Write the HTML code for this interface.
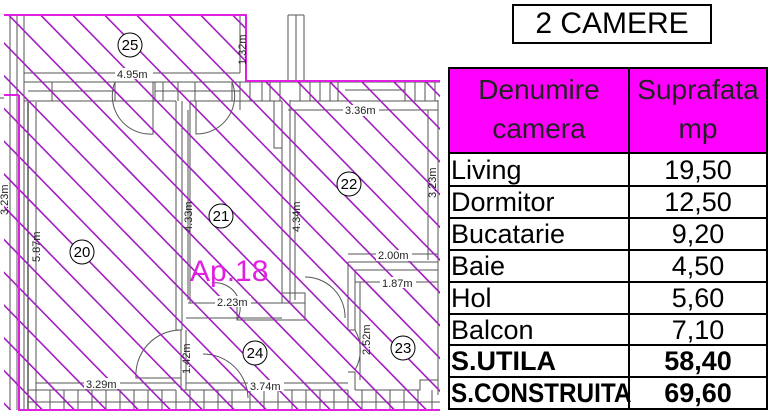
<!DOCTYPE html>
<html><head><meta charset="utf-8"><style>
html,body{margin:0;padding:0;background:#fff;}
body{width:772px;height:419px;position:relative;overflow:hidden;font-family:"Liberation Sans",sans-serif;}
.title{position:absolute;left:512px;top:4px;width:196px;height:36px;border:2px solid #000;font-size:30px;line-height:36px;text-align:center;}
.c{position:absolute;box-sizing:border-box;font-size:27px;line-height:30px;white-space:nowrap;}
</style></head><body>
<svg width="445" height="419" style="position:absolute;left:0;top:0" xmlns="http://www.w3.org/2000/svg">
<defs><clipPath id="c"><path d="M4 15 H246 V81 H440 V410 H4 Z"/></clipPath></defs>
<g stroke="#555" stroke-width="1" fill="none">
<path d="M10 15 V410 M17 15 V410 M24 15 V410 M4 98 H0"/>
<path d="M24 82 H440 M24 101 H176 M190 101 H282 M290 101 H438 M28 91 H115 M155 91 H240 M345 90 H405"/>
<path d="M52 82V101 M115 82V101 M155 82V101 M163 82V101 M178 82V101 M195 82V101 M232 82V101 M240 82V101 M250 82V101 M262 82V101 M270 82V101 M280 82V101 M300 82V101 M310 82V101 M320 82V101 M330 82V101 M338 82V101 M405 82V101 M415 82V101 M425 82V101 M435 82V101"/>
<path d="M288 15 H304 M288 15 V82 M296 15 V82 M304 15 V82"/>
<path d="M36 102 V390 M28 102 V410" stroke="#000"/>
<path d="M176 101 V330 M182 101 V330 M190 101 V303 M176 330 H182 M181 330 V390"/>
<path d="M240 101 V110 M274 101 V148 H282 V303 M282 101 V148 M290 100 V303 M300 303 H290 M188 303 H305 M237 303 V320 H305 V293 H282"/>
<path d="M438 100 V395"/>
<path d="M348 262 H438 M348 262 V330 M355 270 V330 M355 270 H438 M355 330 H348 M355 372 V390 M348 372 H355 M355 390 H420 V380 H438"/>
<path d="M28 390 H176 M181 390 H348 M28 402 H440 M19 410 H440"/>
<path d="M36 390V410 M50 390V410 M64 390V410 M78 390V410 M92 390V410 M106 390V410 M120 390V410 M134 390V410 M148 390V410 M162 390V410 M176 390V410 M190 390V410 M204 390V410 M218 390V410 M232 390V410 M250 390V410 M264 390V410 M278 390V410 M292 390V410 M306 390V410 M320 390V410 M334 390V410 M348 390V410 M362 390V410 M376 390V410 M390 390V410 M404 390V410 M418 390V410 M432 390V410"/>
<path d="M115 82 A38 38 0 0 0 153 134 V82 M232 82 A38 38 0 0 1 196 134 V101 M181 330 A45 45 0 0 0 136 378 H181 M203 354 A45 45 0 0 1 248 398 M305 277 A40 40 0 0 1 345 318 M355 330 A40 40 0 0 1 355 370 M212 283 A25 25 0 0 1 237 320"/>
<path d="M24 73 H240 M240 15 V73 M288 110 H438 M36 102 V390 M188 110 V300 M295 110 V300 M428 110 V260 M348 254 H438 M355 282 H438 M36 383 H176 M186 318 H282 M186 383 H348 M186 330 V390 M360 282 V380"/>
</g>
<g clip-path="url(#c)" stroke="#a020c0" stroke-width="1.6">
<path d="M-390 0 L30 430 M-358 0 L62 430 M-326 0 L94 430 M-294 0 L126 430 M-262 0 L158 430 M-230 0 L190 430 M-198 0 L222 430 M-166 0 L254 430 M-134 0 L286 430 M-102 0 L318 430 M-70 0 L350 430 M-38 0 L382 430 M-6 0 L414 430 M26 0 L446 430 M58 0 L478 430 M90 0 L510 430 M122 0 L542 430 M154 0 L574 430 M186 0 L606 430 M218 0 L638 430 M250 0 L670 430 M282 0 L702 430 M314 0 L734 430 M346 0 L766 430 M378 0 L798 430 M410 0 L830 430"/>
</g>
<g stroke="#e020e0" stroke-width="2" fill="none">
<path d="M4 15 H246 V81 H440 M19 95 V410 H440 M4 95 H19"/>
</g>
<g font-family="Liberation Sans, sans-serif" font-size="11" fill="#222">
<rect x="115" y="68" width="38" height="11" fill="#fff"/><text x="117" y="78">4.95m</text>
<rect x="343" y="105" width="36" height="11" fill="#fff"/><text x="345" y="114">3.36m</text>
<rect x="376" y="250" width="36" height="11" fill="#fff"/><text x="378" y="259">2.00m</text>
<rect x="380" y="277" width="36" height="11" fill="#fff"/><text x="382" y="287">1.87m</text>
<rect x="215" y="296" width="36" height="11" fill="#fff"/><text x="217" y="306">2.23m</text>
<rect x="84" y="378" width="36" height="11" fill="#fff"/><text x="86" y="388">3.29m</text>
<rect x="248" y="380" width="36" height="11" fill="#fff"/><text x="250" y="390">3.74m</text>
<text transform="translate(246,65) rotate(-90)">1.32m</text>
<text transform="translate(40,262) rotate(-90)">5.87m</text>
<text transform="translate(192,232) rotate(-90)">4.33m</text>
<text transform="translate(300,232) rotate(-90)">4.34m</text>
<text transform="translate(436,198) rotate(-90)">3.23m</text>
<text transform="translate(8,215) rotate(-90)">3.23m</text>
<text transform="translate(190,374) rotate(-90)">1.42m</text>
<text transform="translate(370,355) rotate(-90)">2.52m</text>
</g>
<g font-family="Liberation Sans, sans-serif" font-size="15" fill="#000" stroke="#000" text-anchor="middle">
<circle cx="130" cy="45" r="12" fill="#fff"/><text x="130" y="50" stroke="none">25</text>
<circle cx="349" cy="184" r="12" fill="#fff"/><text x="349" y="189" stroke="none">22</text>
<circle cx="221" cy="216" r="12" fill="#fff"/><text x="221" y="221" stroke="none">21</text>
<circle cx="82" cy="252" r="12" fill="#fff"/><text x="82" y="257" stroke="none">20</text>
<circle cx="255" cy="353" r="12" fill="#fff"/><text x="255" y="358" stroke="none">24</text>
<circle cx="403" cy="348" r="12" fill="#fff"/><text x="403" y="353" stroke="none">23</text>
</g>
<text x="190" y="281" font-family="Liberation Sans, sans-serif" font-size="30" fill="#e020e0">Ap.18</text>
</svg>
<div class="title">2 CAMERE</div>

<div style="position:absolute;left:449px;top:68px;width:318px;height:85px;background:#ff00ff;"></div>
<svg width="772" height="419" style="position:absolute;left:0;top:0" xmlns="http://www.w3.org/2000/svg">
<g stroke="#000" stroke-width="2" fill="none">
<rect x="449" y="68" width="318" height="341"/>
<path d="M629 68 V409 M449 153 H767 M449 186 H767 M449 218 H767 M449 250 H767 M449 282 H767 M449 314 H767 M449 345 H767 M449 377 H767"/>
</g>
</svg>
<div class="c" style="left:449px;top:70px;width:180px;text-align:center;color:#222;line-height:39px;font-size:28px">Denumire<br>camera</div>
<div class="c" style="left:629px;top:70px;width:138px;text-align:center;color:#222;line-height:39px;font-size:28px">Suprafata<br>mp</div>
<div class="c" style="left:451px;top:155px">Living</div>
<div class="c" style="left:451px;top:187px">Dormitor</div>
<div class="c" style="left:451px;top:219px">Bucatarie</div>
<div class="c" style="left:451px;top:251px">Baie</div>
<div class="c" style="left:451px;top:283px">Hol</div>
<div class="c" style="left:451px;top:315px">Balcon</div>
<div class="c" style="left:451px;top:346px;font-weight:bold">S.UTILA</div>
<div class="c" style="left:451px;top:378px;font-weight:bold;font-size:27px;transform:scaleX(0.9);transform-origin:0 0">S.CONSTRUITA</div>
<div class="c" style="left:629px;top:155px;width:138px;text-align:center">19,50</div>
<div class="c" style="left:629px;top:187px;width:138px;text-align:center">12,50</div>
<div class="c" style="left:629px;top:219px;width:138px;text-align:center">9,20</div>
<div class="c" style="left:629px;top:251px;width:138px;text-align:center">4,50</div>
<div class="c" style="left:629px;top:283px;width:138px;text-align:center">5,60</div>
<div class="c" style="left:629px;top:315px;width:138px;text-align:center">7,10</div>
<div class="c" style="left:629px;top:346px;width:138px;text-align:center;font-weight:bold">58,40</div>
<div class="c" style="left:629px;top:378px;width:138px;text-align:center;font-weight:bold">69,60</div>
</body></html>
